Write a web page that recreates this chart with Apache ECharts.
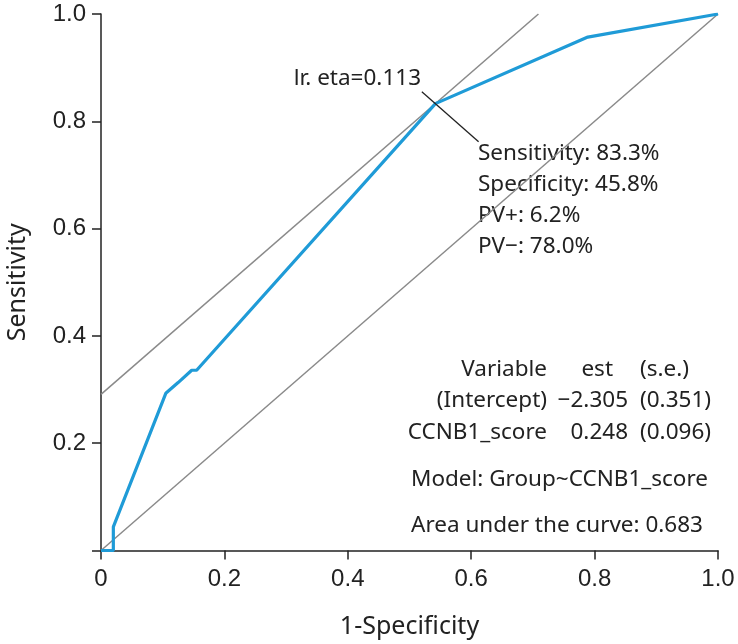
<!DOCTYPE html>
<html>
<head>
<meta charset="utf-8">
<script src="https://cdn.jsdelivr.net/npm/echarts@6/dist/echarts.min.js"></script>
<style>html,body{margin:0;padding:0;background:#fff}#c{width:738px;height:644px}</style>
</head>
<body>
<div id="c"></div>
<script>
// ROC curve points [1-Specificity, Sensitivity]
var rocPoints = [[0,0],[0.02,0],[0.02,0.044],[0.105,0.293],[0.125,0.313],[0.128,0.313],[0.147,0.336],[0.155,0.336],[0.542,0.833],[0.789,0.957],[1,1]];
var diagonalLine = [[0,0],[1,1]];
var tangentLine = [[0,0.291],[0.709,1]];
var pointerLine = [[0.520,0.855],[0.612,0.762]];
var tickValues = [0,0.2,0.4,0.6,0.8,1.0];
var xTickLabels = ['0','0.2','0.4','0.6','0.8','1.0'];
var yTickLabels = ['','0.2','0.4','0.6','0.8','1.0'];
var cutoffLabel = 'lr. eta=0.113';
var statLines = ['Sensitivity: 83.3%','Specificity: 45.8%','PV+: 6.2%','PV\u2212: 78.0%'];
var tableHeader = ['Variable','est','(s.e.)'];
var tableRows = [['(Intercept)','\u22122.305','(0.351)'],['CCNB1_score','0.248','(0.096)']];
var modelText = 'Model: Group~CCNB1_score';
var aucText = 'Area under the curve: 0.683';

var chart = echarts.init(document.getElementById('c'), null, {renderer:'canvas'});
var txtFont = '"Noto Sans", sans-serif';
var txtSize = 22.5;
var txtColor = '#222';
function T(x,y,s,align){
  return {type:'text', x:x, y:y, style:{text:s, x:0, y:0, fill:txtColor, font:txtSize+'px '+txtFont, textAlign:align||'left', textVerticalAlign:'middle'}};
}
var graphics = [];
graphics.push(T(421,79,cutoffLabel,'right'));
statLines.forEach(function(s,i){ graphics.push(T(478,154+i*31,s,'left')); });
graphics.push(T(547,370,tableHeader[0],'right'));
graphics.push(T(613,370,tableHeader[1],'right'));
graphics.push(T(640,370,tableHeader[2],'left'));
tableRows.forEach(function(r,i){
  graphics.push(T(547,401+i*32,r[0],'right'));
  graphics.push(T(628,401+i*32,r[1],'right'));
  graphics.push(T(640,401+i*32,r[2],'left'));
});
graphics.push(T(411,480,modelText,'left'));
graphics.push(T(411,526,aucText,'left'));

var axisCommon = {
  type:'value', min:0, max:1, interval:0.2,
  axisLine:{show:true, lineStyle:{color:'#222', width:1.5}},
  axisTick:{show:true, length:9, lineStyle:{color:'#222', width:1.5}},
  splitLine:{show:false},
  nameLocation:'middle',
  nameTextStyle:{fontFamily:txtFont, fontSize:25, color:'#222'}
};
chart.setOption({
  animation:false,
  backgroundColor:'#fff',
  grid:{left:101, right:20, top:14, bottom:93.5, containLabel:false, outerBoundsMode:'none'},
  xAxis: Object.assign({}, axisCommon, {
    name:'1-Specificity', nameGap:64,
    axisLabel:{margin:17, fontFamily:'"Liberation Sans", Arial, sans-serif', fontSize:24, color:'#222',
      formatter:function(v){ var i = tickValues.indexOf(Math.round(v*10)/10); return i>=0?xTickLabels[i]:''; }}
  }),
  yAxis: Object.assign({}, axisCommon, {
    name:'Sensitivity', nameGap:71,
    axisLabel:{margin:15, fontFamily:'"Liberation Sans", Arial, sans-serif', fontSize:24, color:'#222',
      formatter:function(v){ var i = tickValues.indexOf(Math.round(v*10)/10); return i>=0?yTickLabels[i]:''; }}
  }),
  series:[
    {type:'line', data:diagonalLine, symbol:'none', silent:true, lineStyle:{color:'#8a8a8a', width:1.5}},
    {type:'line', data:tangentLine, symbol:'none', silent:true, lineStyle:{color:'#8a8a8a', width:1.5}},
    {type:'line', data:rocPoints, symbol:'none', lineStyle:{color:'#1f9bd7', width:3.2}, z:5},
    {type:'line', data:pointerLine, symbol:'none', lineStyle:{color:'#222', width:1.3}, z:6}
  ],
  graphic: graphics
});
</script>
</body>
</html>
